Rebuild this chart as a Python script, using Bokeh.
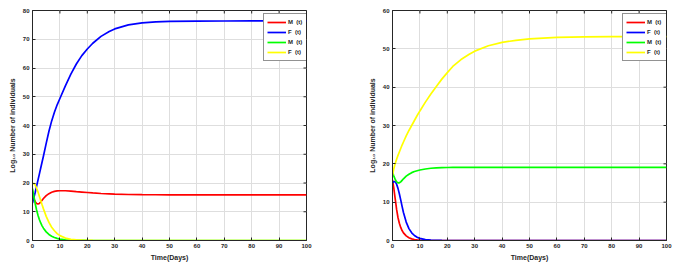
import math
from bokeh.plotting import figure
from bokeh.layouts import row
from bokeh.models import Range1d, FixedTicker, Legend, LegendItem, Label
from bokeh.embed import file_html
from bokeh.resources import INLINE

# ---------------- data ----------------
t = [0, 0.5, 1, 1.5, 2, 2.5, 3, 3.5, 4, 5, 6, 7, 8, 9, 10, 12, 14, 16, 18, 20,
     22, 25, 28, 30, 35, 40, 45, 50, 60, 70, 80, 90, 100]

# left panel
left_Mu = [15.5, 14.4, 13.5, 12.9, 12.7, 12.9, 13.4, 14.0, 14.6, 15.6, 16.3, 16.8, 17.1, 17.25, 17.3,
           17.3, 17.2, 17.0, 16.85, 16.7, 16.55, 16.35, 16.2, 16.1, 16.0, 15.95, 15.92, 15.9,
           15.9, 15.9, 15.9, 15.9, 15.9]
left_Fu = [13.0, 14.9, 16.8, 18.9, 21.0, 23.1, 25.2, 27.3, 29.4, 33.8, 38.0, 41.6, 44.6, 47.2, 49.4,
           53.8, 57.9, 61.4, 64.3, 66.6, 68.6, 71.0, 72.7, 73.6, 75.0, 75.7, 76.05, 76.2,
           76.3, 76.35, 76.4, 76.4, 76.4]
left_Mw = [18.0, 15.3, 12.8, 10.6, 8.8, 7.3, 6.1, 5.1, 4.3, 3.0, 2.1, 1.5, 1.05, 0.75, 0.5,
           0.25, 0.12, 0.06, 0.03, 0.01, 0, 0, 0, 0, 0, 0, 0, 0, 0, 0, 0, 0, 0]
left_Fw = [19.6, 19.9, 19.3, 18.2, 16.9, 15.4, 13.9, 12.4, 11.0, 8.4, 6.3, 4.6, 3.4, 2.4, 1.7,
           0.85, 0.42, 0.2, 0.1, 0.05, 0.02, 0, 0, 0, 0, 0, 0, 0, 0, 0, 0, 0, 0]

# right panel
right_Mu = [15.8, 13.5, 10.8, 8.1, 6.0, 4.5, 3.4, 2.6, 2.0, 1.2, 0.72, 0.43, 0.26, 0.16, 0.1,
            0.04, 0.015, 0, 0, 0, 0, 0, 0, 0, 0, 0, 0, 0, 0, 0, 0, 0, 0]
right_Fu = [15.0, 15.4, 15.3, 14.7, 13.6, 12.2, 10.6, 8.9, 7.3, 4.8, 3.1, 2.0, 1.3, 0.85, 0.55,
            0.23, 0.09, 0.04, 0.015, 0, 0, 0, 0, 0, 0, 0, 0, 0, 0, 0, 0, 0, 0]
right_Mw = [17.8, 16.8, 15.9, 15.3, 15.05, 15.05, 15.3, 15.7, 16.1, 16.8, 17.3, 17.7, 18.0, 18.2, 18.4,
            18.65, 18.85, 18.95, 19.0, 19.05, 19.08, 19.1, 19.1, 19.1, 19.1, 19.1, 19.1, 19.1,
            19.1, 19.1, 19.1, 19.1, 19.1]
right_Fw = [17.0, 18.8, 20.1, 21.2, 22.2, 23.1, 24.0, 24.9, 25.7, 27.3, 28.7, 30.0, 31.3, 32.6, 33.8,
            36.1, 38.2, 40.2, 42.1, 43.8, 45.4, 47.2, 48.6, 49.4, 50.8, 51.7, 52.2, 52.6,
            53.0, 53.1, 53.2, 53.2, 53.2]

x_ticks = [0, 10, 20, 30, 40, 50, 60, 70, 80, 90, 100]
left_y_ticks = [0, 10, 20, 30, 40, 50, 60, 70, 80]
right_y_ticks = [0, 10, 20, 30, 40, 50, 60]

series_names = ["M", "F", "M", "F"]
series_subs = ["u", "u", "w", "w"]
series_colors = ["#ff0000", "#0000ff", "#00ff00", "#ffff00"]

x_label = "Time(Days)"
y_label = "Log\u2081\u2080 Number of individuals"

FONT = "Liberation Sans"
AX = "#262626"
XMAX = 100
FW, FH = 274, 230


def style_axis(ax, ticks):
    ax.ticker = FixedTicker(ticks=ticks)
    ax.axis_line_color = AX
    ax.axis_line_width = 1
    ax.major_tick_line_color = AX
    ax.major_tick_in = 3
    ax.major_tick_out = 0
    ax.minor_tick_line_color = None
    ax.major_label_text_font = FONT
    ax.major_label_text_font_style = "bold"
    ax.major_label_text_color = AX
    ax.major_label_text_font_size = "6px"
    ax.major_label_standoff = 3
    ax.axis_label_text_font = FONT
    ax.axis_label_text_font_style = "bold"
    ax.axis_label_text_font_size = "7px"
    ax.axis_label_text_color = AX


def make_panel(ymax, y_ticks, series, border_left, border_right, legend_x, legend_y):
    p = figure(frame_width=FW, frame_height=FH,
               x_range=Range1d(0, XMAX), y_range=Range1d(0, ymax),
               output_backend="svg", toolbar_location=None,
               min_border_left=border_left, min_border_right=border_right,
               min_border_top=10, min_border_bottom=26)
    p.background_fill_color = "white"
    p.border_fill_color = "white"
    p.outline_line_color = AX
    p.outline_line_width = 1

    style_axis(p.xaxis[0], x_ticks)
    style_axis(p.yaxis[0], y_ticks)
    p.xaxis[0].axis_label = x_label
    p.yaxis[0].axis_label = y_label
    p.xaxis[0].axis_label_standoff = 3
    p.yaxis[0].axis_label_standoff = 4

    p.xgrid.ticker = FixedTicker(ticks=x_ticks)
    p.ygrid.ticker = FixedTicker(ticks=y_ticks)
    for g in (p.xgrid, p.ygrid):
        g.grid_line_color = "#dedede"
        g.grid_line_width = 1

    # inward ticks on the top and right edges of the box (outer half clipped)
    p.scatter(x=x_ticks, y=[ymax] * len(x_ticks), marker="dash", size=6,
              angle=math.pi / 2, line_color=AX, line_width=1)
    p.scatter(x=[XMAX] * len(y_ticks), y=y_ticks, marker="dash", size=6,
              line_color=AX, line_width=1)

    items = []
    for vals, name, color in zip(series, series_names, series_colors):
        r = p.line(t, vals, line_color=color, line_width=1.7)
        items.append(LegendItem(label=name + "\u00a0\u00a0(t)", renderers=[r]))

    pad, gw, lh, stand = 3, 19, 10, 2
    leg = Legend(items=items, location=(legend_x, legend_y),
                 padding=pad, spacing=0, margin=0,
                 glyph_width=gw, glyph_height=lh, label_height=lh,
                 label_standoff=stand,
                 label_text_font=FONT, label_text_font_style="bold",
                 label_text_font_size="6px", label_text_color=AX,
                 label_text_baseline="middle",
                 border_line_color=AX, border_line_width=0.8,
                 background_fill_color="white", background_fill_alpha=1)
    p.add_layout(leg)

    # subscripts of the legend labels, placed via the data scale of the frame
    sx = XMAX / FW
    sy = ymax / FH
    height = 2 * pad + 4 * lh
    text_x = legend_x + pad + gw + stand
    widths = {"M": 5.0, "F": 3.7}
    for i, (name, sub) in enumerate(zip(series_names, series_subs)):
        cy = legend_y + height - pad - lh / 2 - i * lh
        p.add_layout(Label(x=(text_x + widths[name]) * sx, y=(cy - 2) * sy,
                           text=sub, text_font=FONT, text_font_style="bold",
                           text_font_size="5px", text_color=AX,
                           text_baseline="middle", text_align="left",
                           level="overlay"))
    return p


left = make_panel(80, left_y_ticks, [left_Mu, left_Fu, left_Mw, left_Fw],
                  32, 54, 231, 179)
right_p = make_panel(60, right_y_ticks, [right_Mu, right_Fu, right_Mw, right_Fw],
                     32, 15, 230, 179)

layout = row(left, right_p, spacing=0)
open("out.html", "w").write(file_html(layout, INLINE))
